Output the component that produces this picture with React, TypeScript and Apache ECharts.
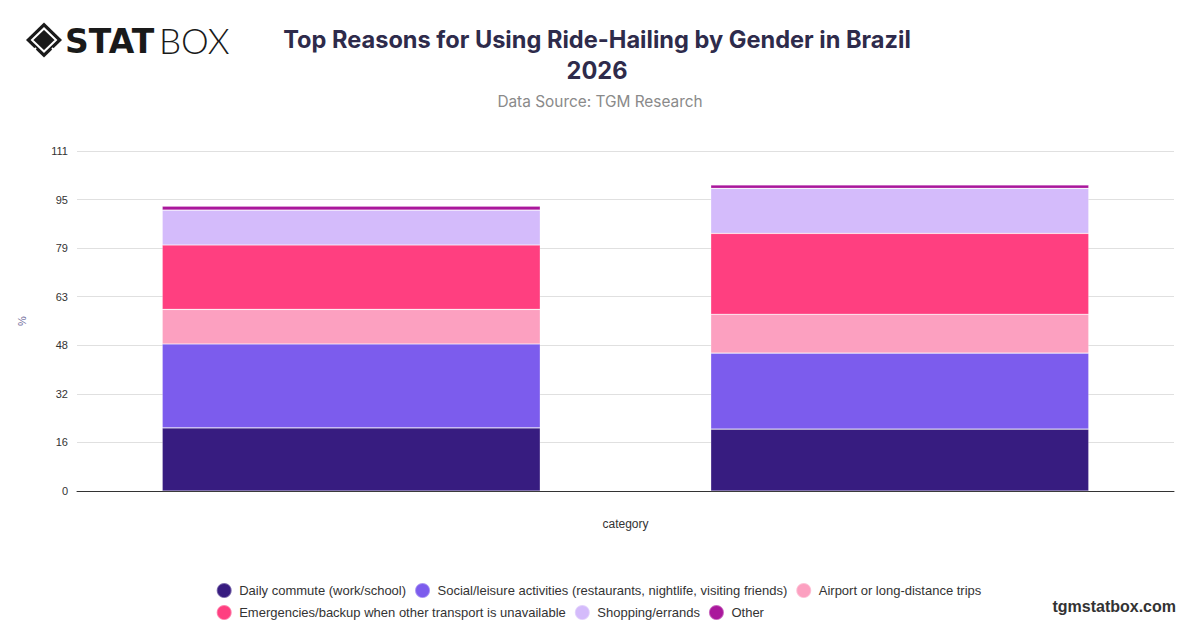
import React, { useEffect, useRef } from "react";
import * as echarts from "echarts";

const categories = ["Male", "Female"];
const seriesNames = [
  "Daily commute (work/school)",
  "Social/leisure activities (restaurants, nightlife, visiting friends)",
  "Airport or long-distance trips",
  "Emergencies/backup when other transport is unavailable",
  "Shopping/errands",
  "Other",
];
const commute = [20.6, 20.2];
const social = [27.4, 24.8];
const airport = [11.3, 12.7];
const emergencies = [21.0, 26.4];
const shopping = [11.4, 14.7];
const other = [1.3, 1.1];
const seriesColors = ["#371c80", "#7c5ced", "#fca0c0", "#ff3f80", "#d4bbfb", "#aa179c"];
const yMax = 111;
const ySplits = 7;

export default function App() {
  const ref = useRef<HTMLDivElement>(null);
  useEffect(() => {
    document.body.style.margin = "0";
    if (!ref.current) return;
    const chart = echarts.init(ref.current, undefined, { renderer: "svg" });
    const values = [commute, social, airport, emergencies, shopping, other];
    chart.setOption({
      animation: false,
      textStyle: { fontFamily: "Liberation Sans, Arial, sans-serif" },
      title: [
        {
          text: "Top Reasons for Using Ride-Hailing by Gender in Brazil\n2026",
          left: 592,
          textAlign: "center",
          top: 19,
          textStyle: {
            fontFamily: "Inter, sans-serif",
            fontSize: 23.6,
            fontWeight: "bold",
            color: "#2e2b4b",
            lineHeight: 31,
          },
        },
        {
          text: "Data Source: TGM Research",
          left: 595,
          textAlign: "center",
          top: 89,
          textStyle: {
            fontFamily: "Inter, sans-serif",
            fontSize: 15.4,
            fontWeight: "normal",
            color: "#8a8a8a",
          },
        },
      ],
      grid: { left: 77, right: 26, top: 151, bottom: 137 },
      legend: {
        data: seriesNames,
        left: "center",
        top: 577,
        width: 800,
        icon: "circle",
        itemWidth: 20,
        itemHeight: 15,
        itemGap: 5,
        textStyle: { fontSize: 13, color: "#333", lineHeight: 14, padding: [0, 3, 0, 0] },
      },
      xAxis: {
        type: "category",
        data: categories,
        axisLabel: { show: false },
        axisTick: { show: false },
        axisLine: { lineStyle: { color: "#333" } },
        name: "category",
        nameLocation: "middle",
        nameGap: 27,
        nameTextStyle: { fontSize: 12, color: "#333" },
      },
      yAxis: {
        type: "value",
        min: 0,
        max: yMax,
        interval: yMax / ySplits,
        axisLabel: {
          fontSize: 11,
          color: "#333",
          margin: 9,
          formatter: (v: number) => String(Math.round(v)),
        },
        axisLine: { show: false },
        axisTick: { show: false },
        splitLine: { lineStyle: { color: "#e0e0e0" } },
        name: "%",
        nameLocation: "middle",
        nameGap: 50,
        nameTextStyle: { fontSize: 11, color: "#6e6a9a" },
      },
      series: seriesNames.map((name, i) => ({
        name,
        type: "bar",
        stack: "total",
        barWidth: 378,
        data: values[i],
        itemStyle: {
          color: seriesColors[i],
          borderColor: "rgba(255,255,255,0.35)",
          borderWidth: 0.6,
        },
      })),
      graphic: [
        {
          type: "polygon",
          shape: { points: [[26, 40], [44, 22.5], [62, 40], [44, 57.5]] },
          style: { fill: "#1a1a1a" },
        },
        {
          type: "polygon",
          shape: { points: [[32, 40], [44, 28.5], [56, 40], [44, 51.5]] },
          style: { fill: "none", stroke: "#fff", lineWidth: 2 },
        },
        {
          type: "line",
          shape: { x1: 36, y1: 48, x2: 30, y2: 54 },
          style: { stroke: "#fff", lineWidth: 2 },
        },
        {
          type: "line",
          shape: { x1: 52, y1: 48, x2: 58, y2: 54 },
          style: { stroke: "#fff", lineWidth: 2 },
        },
        {
          type: "text",
          x: 65,
          y: 41,
          style: {
            text: "STAT",
            fontFamily: "DejaVu Sans, sans-serif",
            fontWeight: "bold",
            fontSize: 33,
            fill: "#1a1a1a",
            verticalAlign: "middle",
          },
        },
        {
          type: "text",
          x: 159,
          y: 40,
          style: {
            text: "BOX",
            fontFamily: "Lato, sans-serif",
            fontWeight: 300,
            fontSize: 35,
            fill: "#1a1a1a",
            verticalAlign: "middle",
          },
        },
        {
          type: "text",
          right: 24,
          top: 598,
          style: {
            text: "tgmstatbox.com",
            fontFamily: "Liberation Sans, Arial, sans-serif",
            fontWeight: "bold",
            fontSize: 16,
            fill: "#333",
          },
        },
      ],
    });
    return () => chart.dispose();
  }, []);
  return <div ref={ref} style={{ width: 1200, height: 628 }} />;
}
